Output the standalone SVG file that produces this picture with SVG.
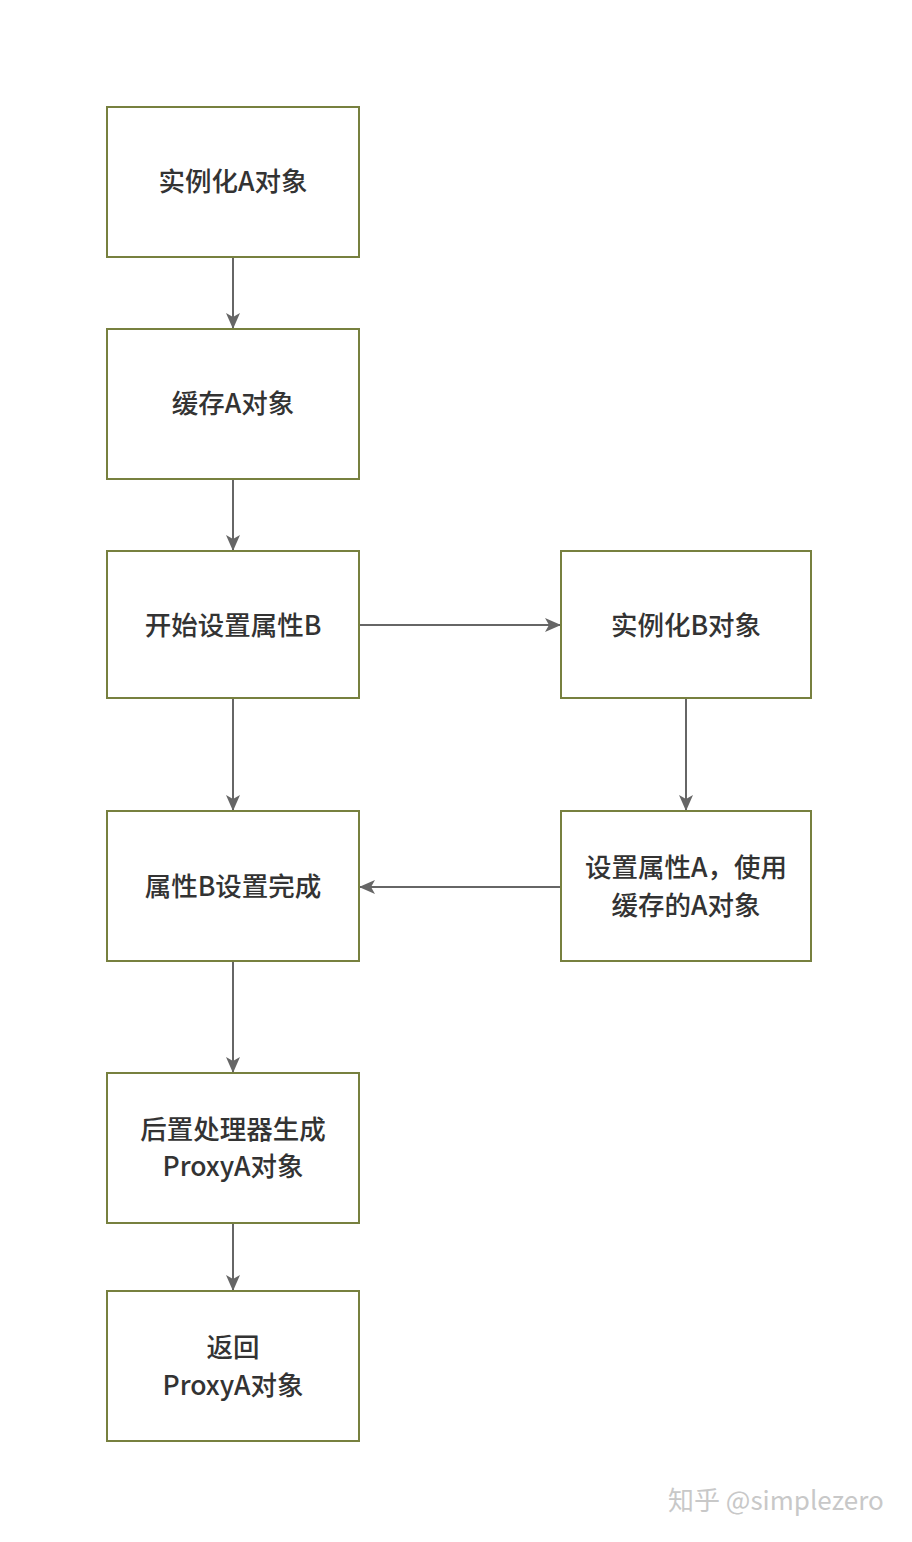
<svg xmlns="http://www.w3.org/2000/svg" width="912" height="1542" viewBox="0 0 912 1542">
<defs>
<style>
.box{fill:#ffffff;stroke:#77803f;stroke-width:2}
.lbl{font-family:"Noto Sans CJK SC","Noto Sans",sans-serif;font-size:26.5px;font-weight:500;fill:#333333;text-anchor:middle}
.edge{stroke:#666666;stroke-width:2;fill:none}
.wm{font-family:"Noto Sans CJK SC","Noto Sans",sans-serif;font-size:26px;fill:#c8c8c8}
</style>
<marker id="arr" viewBox="0 0 16 16" refX="15" refY="8" markerWidth="16" markerHeight="16" markerUnits="userSpaceOnUse" orient="auto">
<path d="M0,1 L16,8 L0,15 L4,8 Z" fill="#666666"/>
</marker>
</defs>
<rect width="912" height="1542" fill="#ffffff"/>
<g id="connectors">
<line class="edge" x1="233" y1="257" x2="233" y2="328" marker-end="url(#arr)"/>
<line class="edge" x1="233" y1="479" x2="233" y2="550" marker-end="url(#arr)"/>
<line class="edge" x1="359" y1="625" x2="560" y2="625" marker-end="url(#arr)"/>
<line class="edge" x1="686" y1="698" x2="686" y2="810" marker-end="url(#arr)"/>
<line class="edge" x1="561" y1="887" x2="360" y2="887" marker-end="url(#arr)"/>
<line class="edge" x1="233" y1="698" x2="233" y2="810" marker-end="url(#arr)"/>
<line class="edge" x1="233" y1="961" x2="233" y2="1072" marker-end="url(#arr)"/>
<line class="edge" x1="233" y1="1223" x2="233" y2="1290" marker-end="url(#arr)"/>
</g>
<g id="n1"><rect class="box" x="107" y="107" width="252" height="150"/><text class="lbl" x="233" y="191">实例化A对象</text></g>
<g id="n2"><rect class="box" x="107" y="329" width="252" height="150"/><text class="lbl" x="233" y="413">缓存A对象</text></g>
<g id="n3"><rect class="box" x="107" y="551" width="252" height="147"/><text class="lbl" x="233" y="635">开始设置属性B</text></g>
<g id="n4"><rect class="box" x="561" y="551" width="250" height="147"/><text class="lbl" x="686" y="635">实例化B对象</text></g>
<g id="n5"><rect class="box" x="561" y="811" width="250" height="150"/><text class="lbl" x="686" y="877">设置属性A，使用</text><text class="lbl" x="686" y="915">缓存的A对象</text></g>
<g id="n6"><rect class="box" x="107" y="811" width="252" height="150"/><text class="lbl" x="233" y="896">属性B设置完成</text></g>
<g id="n7"><rect class="box" x="107" y="1073" width="252" height="150"/><text class="lbl" x="233" y="1139">后置处理器生成</text><text class="lbl" x="233" y="1176">ProxyA对象</text></g>
<g id="n8"><rect class="box" x="107" y="1291" width="252" height="150"/><text class="lbl" x="233" y="1357">返回</text><text class="lbl" x="233" y="1395">ProxyA对象</text></g>
<text class="wm" x="668" y="1510">知乎 @simplezero</text>
</svg>
